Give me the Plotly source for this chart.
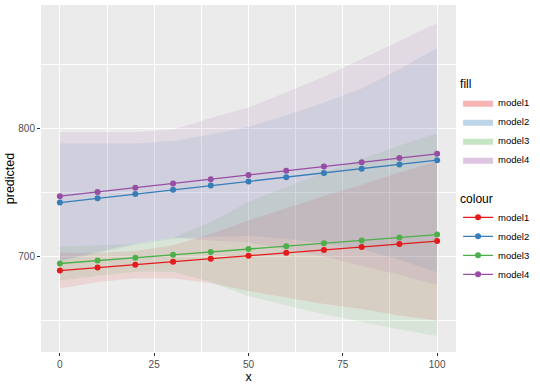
import plotly.graph_objects as go

x_vals = [0, 10, 20, 30, 40, 50, 60, 70, 80, 90, 100]
models = ["model1", "model2", "model3", "model4"]

fit_model1 = [689, 691.3, 693.6, 695.9, 698.2, 700.5, 702.8, 705.1, 707.4, 709.7, 712]
fit_model2 = [742, 745.3, 748.6, 751.9, 755.2, 758.5, 761.8, 765.1, 768.4, 771.7, 775]
fit_model3 = [694.5, 696.8, 699, 701.3, 703.5, 705.8, 708, 710.3, 712.5, 714.8, 717]
fit_model4 = [747, 750.3, 753.6, 756.9, 760.2, 763.5, 766.8, 770.1, 773.4, 776.7, 780]

lower_model1 = [675, 680, 683, 683, 679, 673, 668, 663, 659, 654, 650]
upper_model1 = [703, 702.6, 704.2, 708.8, 717.4, 728, 737.6, 747.2, 755.8, 765.4, 774]
lower_model2 = [696, 702.6, 709.2, 713.8, 715.4, 716, 713.6, 710.2, 705.8, 697.4, 687.5]
upper_model2 = [788, 788, 788, 790, 795, 801, 810, 820, 831, 846, 862.5]
lower_model3 = [681, 685, 688, 688, 680, 669, 662, 655, 649, 643, 638]
upper_model3 = [708, 708.5, 710, 714.5, 727, 742.5, 754, 765.5, 776, 786.5, 796]
lower_model4 = [697, 703.6, 710.2, 715, 712.4, 711, 705.8, 700, 692.8, 685.7, 678]
upper_model4 = [797, 797, 797, 799, 808, 816, 828, 840, 854, 868, 882]

x_ticks = [0, 25, 50, 75, 100]
y_ticks = [700, 800]

fits = [fit_model1, fit_model2, fit_model3, fit_model4]
lowers = [lower_model1, lower_model2, lower_model3, lower_model4]
uppers = [upper_model1, upper_model2, upper_model3, upper_model4]
rgb = [(228, 26, 28), (55, 126, 184), (77, 175, 74), (152, 78, 163)]

fig = go.Figure()

# ribbons
for name, lo, up, c in zip(models, lowers, uppers, rgb):
    fig.add_trace(go.Scatter(
        x=x_vals + x_vals[::-1], y=up + lo[::-1],
        fill="toself", fillcolor="rgba(%d,%d,%d,0.11)" % c,
        line=dict(width=0), mode="lines", hoverinfo="skip",
        showlegend=False))

# fill legend entries
for name, c in zip(models, rgb):
    fig.add_trace(go.Scatter(
        x=[None], y=[None], name=name, fill="toself",
        fillcolor="rgba(%d,%d,%d,0.33)" % c,
        line=dict(width=0), mode="lines", legend="legend", showlegend=True))

# lines
for name, f, c in zip(models, fits, rgb):
    col = "rgb(%d,%d,%d)" % c
    fig.add_trace(go.Scatter(
        x=x_vals, y=f, name=name, mode="lines+markers",
        line=dict(color=col, width=1.3),
        marker=dict(color=col, size=6),
        legend="legend2"))

leg_common = dict(x=1.005, xanchor="left", yanchor="top",
                  font=dict(size=9.5, color="black"), bgcolor="rgba(0,0,0,0)",
                  itemwidth=30, tracegroupgap=0)

fig.update_layout(
    width=540, height=386,
    margin=dict(l=41, r=84, t=5, b=34, autoexpand=False),
    paper_bgcolor="white", plot_bgcolor="#EBEBEB",
    font=dict(family="Liberation Sans, Arial, sans-serif", size=10, color="#4D4D4D"),
    legend=dict(title=dict(text="fill", font=dict(size=12, color="black")),
                y=0.805, **leg_common),
    legend2=dict(title=dict(text="colour", font=dict(size=12, color="black")),
                 y=0.475, **leg_common),
    xaxis=dict(range=[-5, 105], tickvals=x_ticks, ticktext=[str(v) for v in x_ticks],
               automargin=False,
               showgrid=True, gridcolor="white", gridwidth=1.1, zeroline=False,
               ticks="outside", ticklen=3, tickcolor="#333333", tickwidth=1,
               tickfont=dict(size=10, color="#4D4D4D"),
               minor=dict(tickvals=[12.5, 37.5, 62.5, 87.5], showgrid=True,
                          gridcolor="white", gridwidth=0.5, ticks=""),
               title=dict(text="x", font=dict(size=12.5, color="black"), standoff=0)),
    yaxis=dict(range=[625.5, 896], tickvals=y_ticks, ticktext=[str(v) for v in y_ticks],
               automargin=False,
               showgrid=True, gridcolor="white", gridwidth=1.1, zeroline=False,
               ticks="outside", ticklen=3, tickcolor="#333333", tickwidth=1,
               tickfont=dict(size=10, color="#4D4D4D"),
               minor=dict(tickvals=[650, 750, 850], showgrid=True,
                          gridcolor="white", gridwidth=0.5, ticks=""),
               title=dict(text="predicted", font=dict(size=12.5, color="black"), standoff=0)),
)

fig.write_html("out.html", config={"displayModeBar": False},
               post_script="document.body.style.margin='0';document.body.style.overflow='hidden';")
